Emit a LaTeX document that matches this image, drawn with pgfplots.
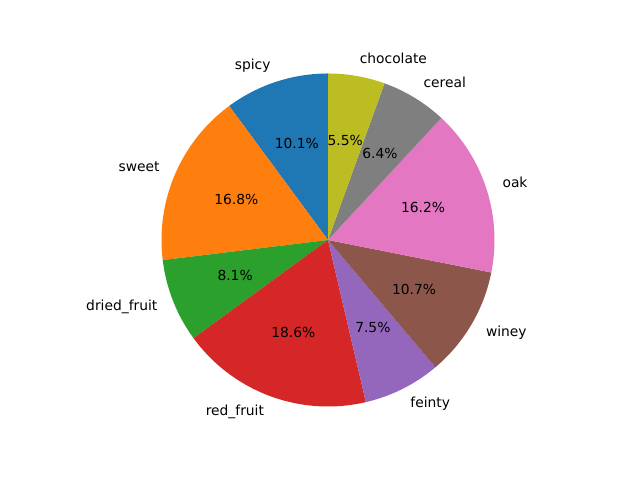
\documentclass[border=0pt]{standalone}
\usepackage{fontspec}
\setmainfont{DejaVu Sans}
\usepackage{pgfplots}
\pgfplotsset{compat=1.18}
\definecolor{c0}{HTML}{1F77B4}
\definecolor{c1}{HTML}{FF7F0E}
\definecolor{c2}{HTML}{2CA02C}
\definecolor{c3}{HTML}{D62728}
\definecolor{c4}{HTML}{9467BD}
\definecolor{c5}{HTML}{8C564B}
\definecolor{c6}{HTML}{E377C2}
\definecolor{c7}{HTML}{7F7F7F}
\definecolor{c8}{HTML}{BCBD22}
% scale: 360 degrees over the total of the percentages (99.9)
\def\k{3.603604}
% #1 start (cumulative %), #2 end (cumulative %), #3 colour, #4 label, #5 percent text, #6 anchor of label
\newcommand{\slice}[6]{%
  \addplot[fill=#3, draw=none, domain=#1:#2, samples=60, variable=\t]
    ({cos(90+\k*\t)},{sin(90+\k*\t)}) -- (axis cs:0,0) -- cycle;
  \node[anchor=#6, inner sep=0pt, text height=7.6pt, text depth=2.3pt] at (axis cs:{1.1*cos(90+\k*(#1+#2)/2)},{1.1*sin(90+\k*(#1+#2)/2)}) {#4};
  \node[inner sep=0pt, text height=7.6pt, text depth=2.3pt] at (axis cs:{0.6*cos(90+\k*(#1+#2)/2)},{0.6*sin(90+\k*(#1+#2)/2)}) {#5};
}
\begin{document}
\begin{tikzpicture}
\begin{axis}[
  scale only axis,
  width=6.4in, height=4.8in,
  xmin=-1.9700, xmax=1.8739,
  ymin=-1.4414, ymax=1.4414,
  hide axis, clip=false,
]
\fill[white] (rel axis cs:0,0) rectangle (rel axis cs:1,1);
\slice{0}{10.1}{c0}{spicy}{10.1\%}{east}
\slice{10.1}{26.9}{c1}{sweet}{16.8\%}{east}
\slice{26.9}{35.0}{c2}{dried\_fruit}{8.1\%}{east}
\slice{35.0}{53.6}{c3}{red\_fruit}{18.6\%}{east}
\slice{53.6}{61.1}{c4}{feinty}{7.5\%}{west}
\slice{61.1}{71.8}{c5}{winey}{10.7\%}{west}
\slice{71.8}{88.0}{c6}{oak}{16.2\%}{west}
\slice{88.0}{94.4}{c7}{cereal}{6.4\%}{west}
\slice{94.4}{99.9}{c8}{chocolate}{5.5\%}{west}
\end{axis}
\end{tikzpicture}
\end{document}
